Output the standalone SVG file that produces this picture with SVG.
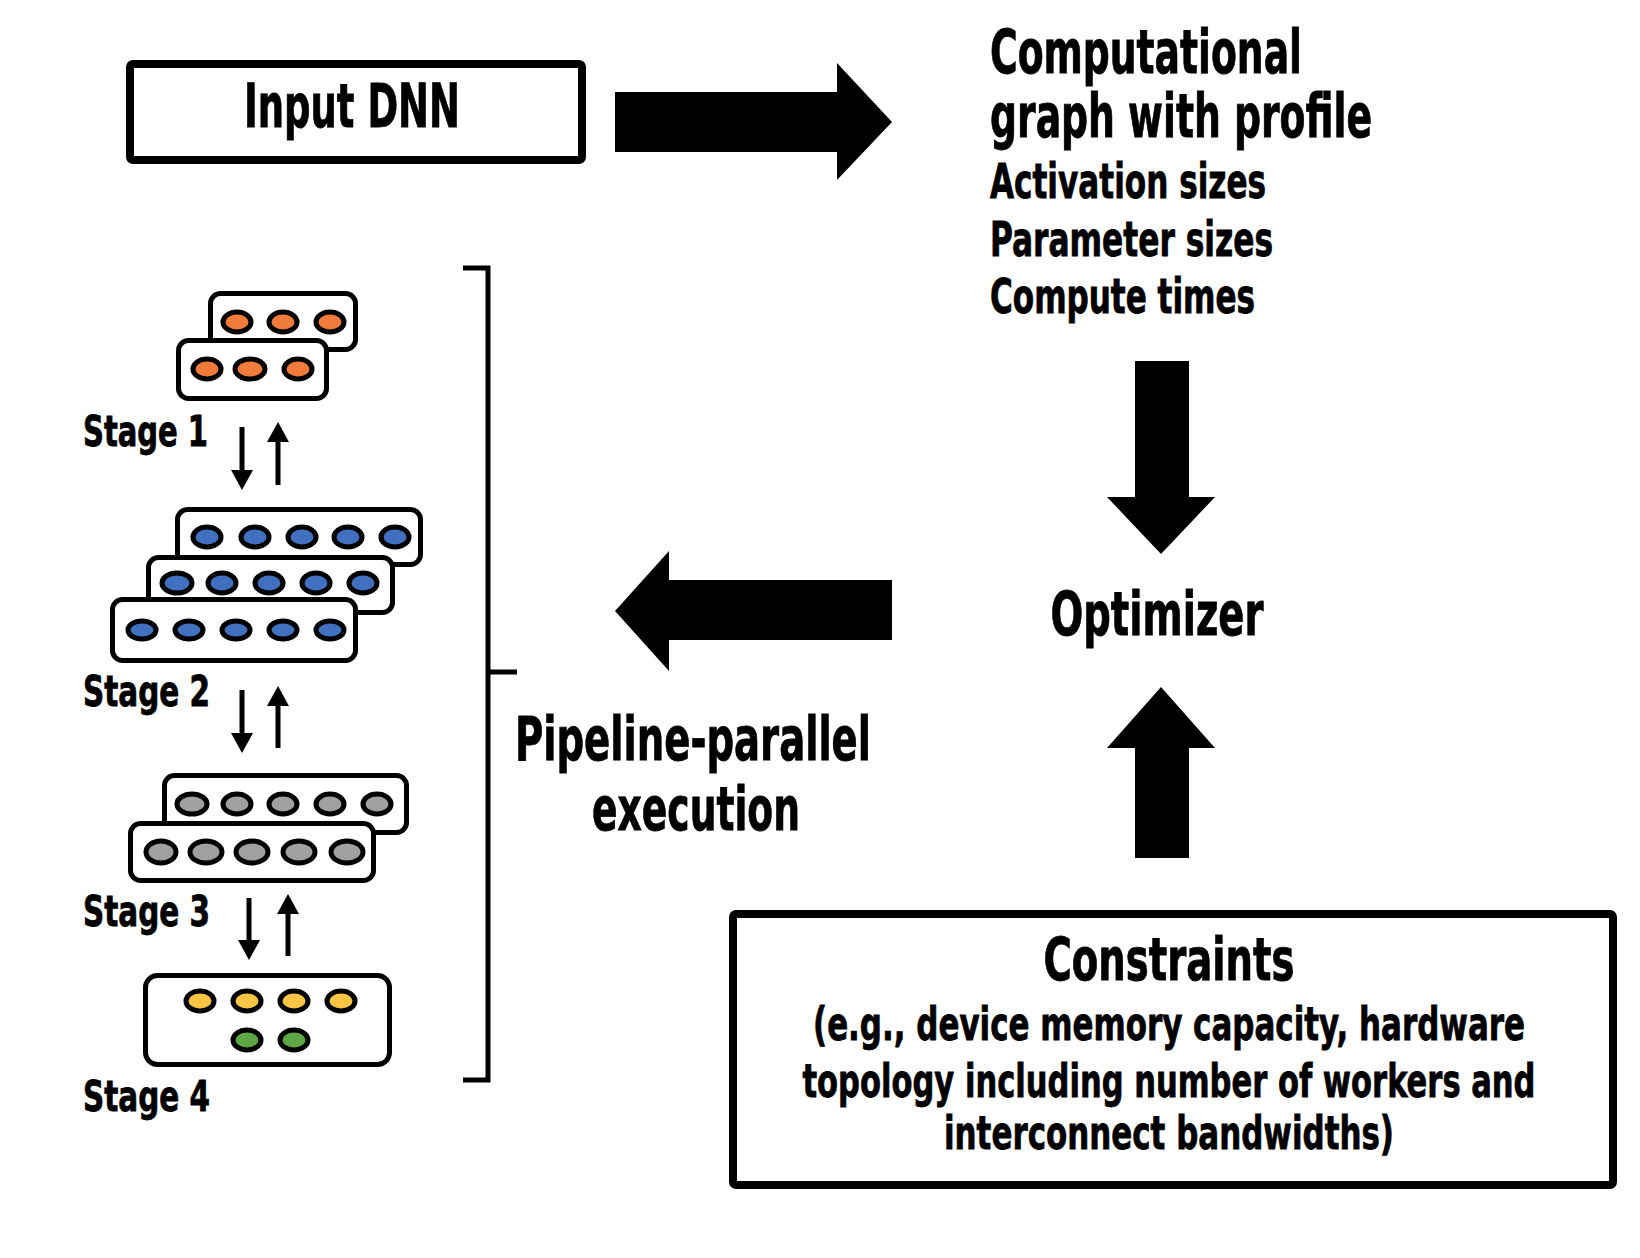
<svg xmlns="http://www.w3.org/2000/svg" width="1640" height="1258" viewBox="0 0 1640 1258">
<style>
.t{font-family:"Liberation Sans Narrow","DejaVu Sans Condensed","Roboto","Liberation Sans",sans-serif;font-weight:bold;fill:#000;stroke:#000;stroke-width:0.8}
.box{fill:#fff;stroke:#000;stroke-width:8}
.lay{fill:#fff;stroke:#000;stroke-width:5}
.n{stroke:#000;stroke-width:5}
.o{fill:#F07B3A}.b{fill:#4170C0}.g{fill:#A29F9F}.y{fill:#F8C545}.gr{fill:#5FA646}
.big{fill:#000}
.sm{stroke:#000;stroke-width:5;fill:none}
.br{stroke:#000;stroke-width:5;fill:none}
</style>
<rect width="1640" height="1258" fill="#fff"/>

<g id="input-dnn">
<rect class="box" x="130" y="64" width="452" height="96" rx="3"/>
<text class="t" x="352" y="127" font-size="60" text-anchor="middle" textLength="216" lengthAdjust="spacingAndGlyphs">Input DNN</text>
</g>

<g id="profile">
<text class="t" x="990" y="73" font-size="60" textLength="312" lengthAdjust="spacingAndGlyphs">Computational</text>
<text class="t" x="990" y="137" font-size="60" textLength="382" lengthAdjust="spacingAndGlyphs">graph with profile</text>
<text class="t" x="990" y="198" font-size="48" textLength="276" lengthAdjust="spacingAndGlyphs">Activation sizes</text>
<text class="t" x="990" y="256" font-size="48" textLength="283" lengthAdjust="spacingAndGlyphs">Parameter sizes</text>
<text class="t" x="990" y="313" font-size="48" textLength="265" lengthAdjust="spacingAndGlyphs">Compute times</text>
</g>

<g id="optimizer">
<text class="t" x="1157" y="635" font-size="60" text-anchor="middle" textLength="213" lengthAdjust="spacingAndGlyphs">Optimizer</text>
</g>

<g id="pipeline-label">
<text class="t" x="693" y="760" font-size="60" text-anchor="middle" textLength="356" lengthAdjust="spacingAndGlyphs">Pipeline-parallel</text>
<text class="t" x="696" y="830" font-size="60" text-anchor="middle" textLength="208" lengthAdjust="spacingAndGlyphs">execution</text>
</g>

<g id="constraints">
<rect class="box" x="733" y="914" width="880" height="271" rx="3"/>
<text class="t" x="1169" y="980" font-size="58" text-anchor="middle" textLength="251" lengthAdjust="spacingAndGlyphs">Constraints</text>
<text class="t" x="1169" y="1040" font-size="47" text-anchor="middle" textLength="712" lengthAdjust="spacingAndGlyphs">(e.g., device memory capacity, hardware</text>
<text class="t" x="1169" y="1097" font-size="47" text-anchor="middle" textLength="733" lengthAdjust="spacingAndGlyphs">topology including number of workers and</text>
<text class="t" x="1169" y="1149" font-size="47" text-anchor="middle" textLength="450" lengthAdjust="spacingAndGlyphs">interconnect bandwidths)</text>
</g>

<g id="stage1">
<rect class="lay" x="210.5" y="293.5" width="145" height="56" rx="10"/>
<ellipse class="n o" cx="237" cy="322" rx="14" ry="10"/>
<ellipse class="n o" cx="283" cy="322" rx="14" ry="10"/>
<ellipse class="n o" cx="330" cy="322" rx="14" ry="10"/>
<rect class="lay" x="178.5" y="340.5" width="148" height="58" rx="10"/>
<ellipse class="n o" cx="207" cy="369" rx="14" ry="10"/>
<ellipse class="n o" cx="250" cy="369" rx="15" ry="10"/>
<ellipse class="n o" cx="298" cy="369" rx="14" ry="10"/>
<text class="t" x="83" y="446" font-size="42" textLength="125" lengthAdjust="spacingAndGlyphs">Stage 1</text>
</g>

<g id="stage2">
<rect class="lay" x="177.5" y="509.5" width="243" height="55" rx="10"/>
<ellipse class="n b" cx="207" cy="537" rx="14" ry="10"/>
<ellipse class="n b" cx="255" cy="537" rx="14" ry="10"/>
<ellipse class="n b" cx="302" cy="537" rx="14" ry="10"/>
<ellipse class="n b" cx="348" cy="537" rx="14" ry="10"/>
<ellipse class="n b" cx="395" cy="537" rx="14" ry="10"/>
<rect class="lay" x="148.5" y="557.5" width="244" height="55" rx="10"/>
<ellipse class="n b" cx="177" cy="583" rx="15" ry="10"/>
<ellipse class="n b" cx="222" cy="583" rx="14" ry="10"/>
<ellipse class="n b" cx="269" cy="583" rx="14" ry="10"/>
<ellipse class="n b" cx="316" cy="583" rx="14" ry="10"/>
<ellipse class="n b" cx="363" cy="583" rx="14" ry="10"/>
<rect class="lay" x="112.5" y="599.5" width="243" height="61" rx="10"/>
<ellipse class="n b" cx="142" cy="630" rx="14" ry="9"/>
<ellipse class="n b" cx="189" cy="630" rx="14" ry="9"/>
<ellipse class="n b" cx="236" cy="630" rx="14" ry="9"/>
<ellipse class="n b" cx="283" cy="630" rx="14" ry="9"/>
<ellipse class="n b" cx="330" cy="630" rx="14" ry="9"/>
<text class="t" x="83" y="706" font-size="42" textLength="127" lengthAdjust="spacingAndGlyphs">Stage 2</text>
</g>

<g id="stage3">
<rect class="lay" x="164.5" y="775.5" width="242" height="57" rx="10"/>
<ellipse class="n g" cx="192" cy="804" rx="15" ry="10"/>
<ellipse class="n g" cx="237" cy="804" rx="14" ry="10"/>
<ellipse class="n g" cx="283" cy="804" rx="14" ry="10"/>
<ellipse class="n g" cx="330" cy="804" rx="14" ry="10"/>
<ellipse class="n g" cx="377" cy="804" rx="14" ry="10"/>
<rect class="lay" x="130.5" y="823.5" width="243" height="57" rx="10"/>
<ellipse class="n g" cx="161" cy="852" rx="15" ry="11"/>
<ellipse class="n g" cx="206" cy="852" rx="16" ry="11"/>
<ellipse class="n g" cx="252" cy="852" rx="16" ry="11"/>
<ellipse class="n g" cx="299" cy="852" rx="16" ry="11"/>
<ellipse class="n g" cx="347" cy="852" rx="16" ry="11"/>
<text class="t" x="83" y="926" font-size="42" textLength="127" lengthAdjust="spacingAndGlyphs">Stage 3</text>
</g>

<g id="stage4">
<rect class="lay" x="145.5" y="975.5" width="244" height="89" rx="12"/>
<ellipse class="n y" cx="200" cy="1001" rx="14" ry="10"/>
<ellipse class="n y" cx="247" cy="1001" rx="14" ry="10"/>
<ellipse class="n y" cx="294" cy="1001" rx="14" ry="10"/>
<ellipse class="n y" cx="341" cy="1001" rx="14" ry="10"/>
<ellipse class="n gr" cx="247" cy="1040" rx="14" ry="10"/>
<ellipse class="n gr" cx="294" cy="1040" rx="14" ry="10"/>
<text class="t" x="83" y="1111" font-size="42" textLength="127" lengthAdjust="spacingAndGlyphs">Stage 4</text>
</g>

<g id="connectors">
<polygon class="big" points="615,92 837,92 837,63 892,122 837,180 837,152 615,152"/>
<polygon class="big" points="1135,361 1189,361 1189,497 1215,497 1161,554 1107,497 1135,497"/>
<polygon class="big" points="1135,858 1189,858 1189,748 1215,748 1161,687 1107,748 1135,748"/>
<polygon class="big" points="892,580 892,640 669,640 669,671 615,611 669,551 669,580"/>
<path class="br" d="M463,268 H488 V1080 H463"/>
<line class="br" x1="488" y1="672" x2="517" y2="672"/>
<line class="sm" x1="242" y1="427" x2="242" y2="472"/>
<polygon class="big" points="231,470 253,470 242,490"/>
<line class="sm" x1="278" y1="485" x2="278" y2="440"/>
<polygon class="big" points="267,442 289,442 278,422"/>
<line class="sm" x1="242" y1="690" x2="242" y2="735"/>
<polygon class="big" points="231,733 253,733 242,753"/>
<line class="sm" x1="278" y1="748" x2="278" y2="704"/>
<polygon class="big" points="267,706 289,706 278,686"/>
<line class="sm" x1="249" y1="898" x2="249" y2="942"/>
<polygon class="big" points="238,940 260,940 249,960"/>
<line class="sm" x1="288" y1="956" x2="288" y2="912"/>
<polygon class="big" points="277,914 299,914 288,894"/>
</g>
</svg>
